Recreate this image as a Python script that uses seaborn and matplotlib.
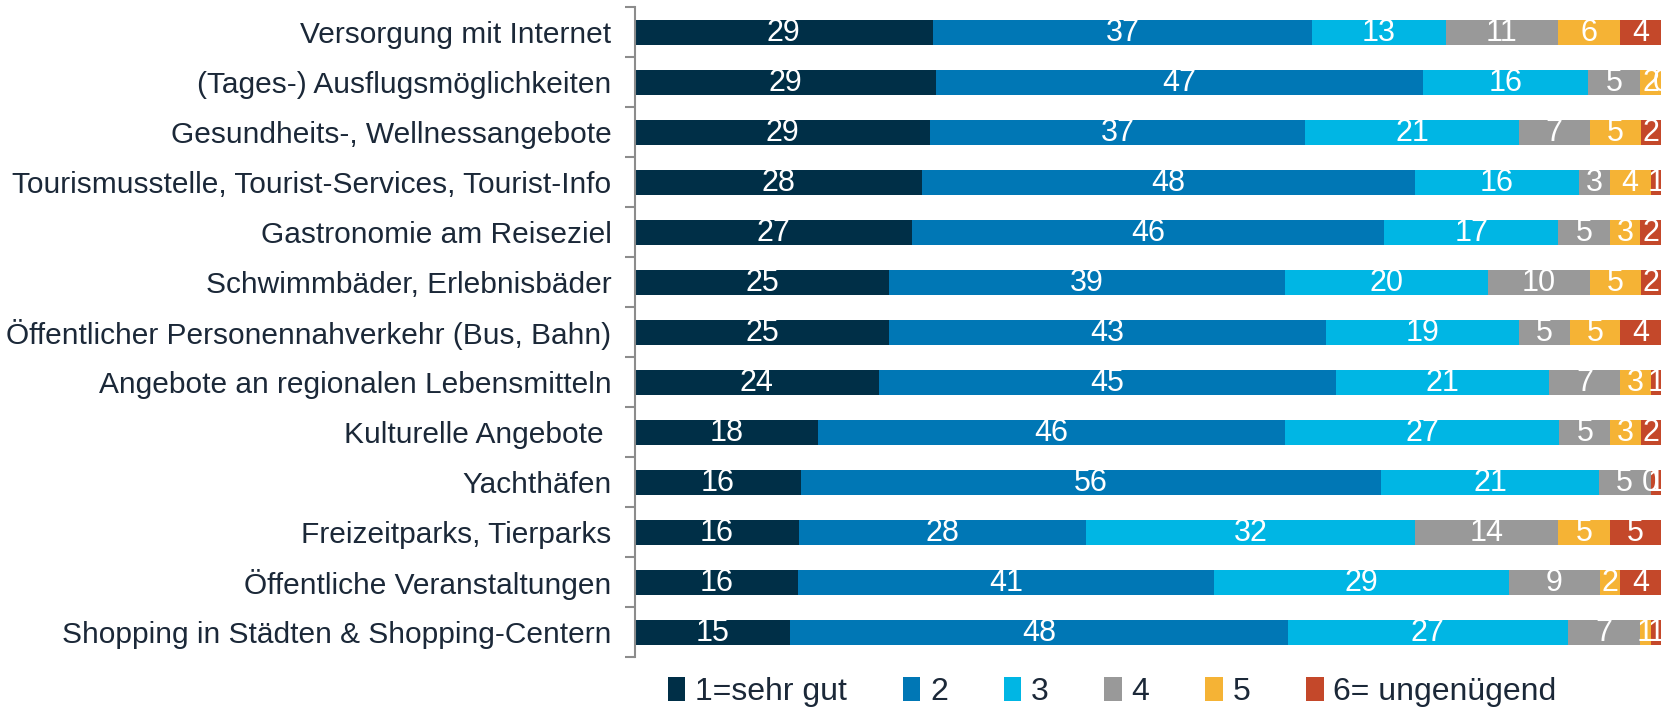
import seaborn as sns
import matplotlib.pyplot as plt
import pandas as pd
import numpy as np
from matplotlib.patches import Patch

categories = [
    'Versorgung mit Internet',
    '(Tages-) Ausflugsmöglichkeiten',
    'Gesundheits-, Wellnessangebote',
    'Tourismusstelle, Tourist-Services, Tourist-Info',
    'Gastronomie am Reiseziel',
    'Schwimmbäder, Erlebnisbäder',
    'Öffentlicher Personennahverkehr (Bus, Bahn)',
    'Angebote an regionalen Lebensmitteln',
    'Kulturelle Angebote ',
    'Yachthäfen',
    'Freizeitparks, Tierparks',
    'Öffentliche Veranstaltungen',
    'Shopping in Städten & Shopping-Centern',
]
grades = ['1=sehr gut', '2', '3', '4', '5', '6= ungenügend']
note_1 = [29, 29, 29, 28, 27, 25, 25, 24, 18, 16, 16, 16, 15]
note_2 = [37, 47, 37, 48, 46, 39, 43, 45, 46, 56, 28, 41, 48]
note_3 = [13, 16, 21, 16, 17, 20, 19, 21, 27, 21, 32, 29, 27]
note_4 = [11, 5, 7, 3, 5, 10, 5, 7, 5, 5, 14, 9, 7]
note_5 = [6, 2, 5, 4, 3, 5, 5, 3, 3, 0, 5, 2, 1]
note_6 = [4, 0, 2, 1, 2, 2, 4, 1, 2, 1, 5, 4, 1]
colors = ['#002F47', '#0077B5', '#00B6E4', '#999999', '#F5B335', '#C4482A']

sns.set_style('white')
plt.rcParams['font.family'] = ['Liberation Sans', 'DejaVu Sans']

vals = np.array([note_1, note_2, note_3, note_4, note_5, note_6], dtype=float).T
share = vals / vals.sum(axis=1, keepdims=True) * 100
cum = np.cumsum(share, axis=1)

fig = plt.figure(figsize=(16.75, 7.09), dpi=100)
ax = fig.add_axes([635 / 1675, 1 - 657 / 709, 1026 / 1675, 650 / 709])

# stacked bars: draw cumulative totals from the largest down
for k in range(5, -1, -1):
    df = pd.DataFrame({'cat': categories, 'val': cum[:, k]})
    sns.barplot(data=df, x='val', y='cat', color=colors[k], width=0.5,
                saturation=1, orient='h', ax=ax, linewidth=0)

for i in range(len(categories)):
    for k in range(6):
        left = cum[i, k - 1] if k > 0 else 0
        ax.text((left + cum[i, k]) / 2, i + 0.02, str(int(vals[i, k])), ha='center',
                va='center', color='white', fontsize=22)

ax.set_xlim(0, 100)
ax.set_ylim(len(categories) - 0.5, -0.5)
ax.set_xlabel('')
ax.set_ylabel('')
ax.set_xticks([])
for s in ['top', 'right', 'bottom']:
    ax.spines[s].set_visible(False)
ax.spines['left'].set_color('#8c8c8c')
ax.spines['left'].set_linewidth(1.5)
ax.set_yticks(np.arange(-0.5, len(categories), 1), minor=True)
ax.tick_params(axis='y', which='minor', length=7, width=1.5, color='#8c8c8c', left=True)
ax.tick_params(axis='y', which='major', length=0, pad=17, labelsize=21.5, labelcolor='#1b2838')

handles = [Patch(facecolor=c, edgecolor='none') for c in colors]
fig.legend(handles, grades, loc='center', bbox_to_anchor=(0.664, 0.024), ncol=6,
           frameon=False, fontsize=23, handlelength=0.55, handleheight=0.75,
           handletextpad=0.3, columnspacing=1.75, labelcolor='#1b2838')

plt.savefig('out.png', dpi=100)
